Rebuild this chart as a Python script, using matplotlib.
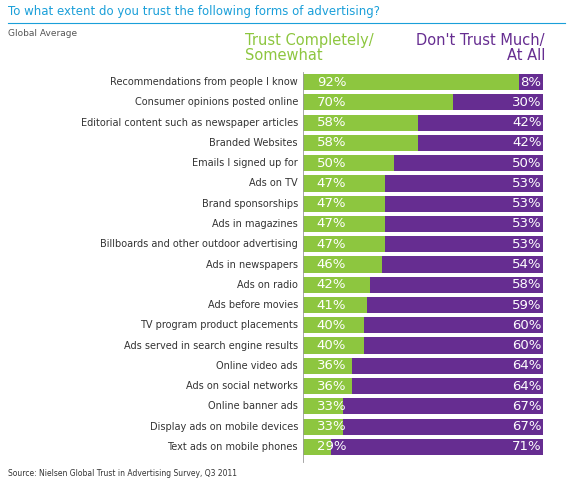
import matplotlib.pyplot as plt

categories = ["Recommendations from people I know", "Consumer opinions posted online",
              "Editorial content such as newspaper articles", "Branded Websites",
              "Emails I signed up for", "Ads on TV", "Brand sponsorships", "Ads in magazines",
              "Billboards and other outdoor advertising", "Ads in newspapers", "Ads on radio",
              "Ads before movies", "TV program product placements",
              "Ads served in search engine results", "Online video ads",
              "Ads on social networks", "Online banner ads", "Display ads on mobile devices",
              "Text ads on mobile phones"]
trust = [92, 70, 58, 58, 50, 47, 47, 47, 47, 46, 42, 41, 40, 40, 36, 36, 33, 33, 29]
distrust = [8, 30, 42, 42, 50, 53, 53, 53, 53, 54, 58, 59, 60, 60, 64, 64, 67, 67, 71]

green = "#8dc63f"
purple = "#662d91"
W, H = 570, 486
x0, x1 = 19.5, 100.8  # the original chart's scale does not start at zero

fig = plt.figure(figsize=(W / 100, H / 100), dpi=100)
fig.patch.set_facecolor("white")
ax = fig.add_axes([303 / W, 1 - 457 / H, 242 / W, 385 / H])
y = list(range(len(categories)))
ax.barh(y, trust, height=0.8, color=green)
ax.barh(y, distrust, left=trust, height=0.8, color=purple)
ax.set_xlim(x0, x1)
ax.set_ylim(len(categories) - 0.5, -0.5)
ax.axis("off")

for i, cat in enumerate(categories):
    ax.text(x0 - 1.7, i, cat, ha="right", va="center", fontsize=7, color="#333333", clip_on=False)
    ax.text(x0 + 4.6, i, f"{trust[i]}%", ha="left", va="center", fontsize=9.5, color="white")
    ax.text(99.6, i, f"{distrust[i]}%", ha="right", va="center", fontsize=9.5, color="white")

# thin vertical axis line under the bars
fig.add_artist(plt.Line2D([303 / W, 303 / W], [1 - 72 / H, 1 - 462 / H], color="#999999", lw=0.6))

fig.text(8 / W, 1 - 12 / H, "To what extent do you trust the following forms of advertising?",
         fontsize=8.5, color="#1a9fd9", va="center")
fig.add_artist(plt.Line2D([8 / W, 565 / W], [1 - 23 / H, 1 - 23 / H], color="#1a9fd9", lw=0.8))
fig.text(8 / W, 1 - 34 / H, "Global Average", fontsize=6.5, color="#555555", va="center")
fig.text(245 / W, 1 - 48 / H, "Trust Completely/\nSomewhat", fontsize=10.5, color=green,
         va="center", ha="left", linespacing=1.05)
fig.text(545 / W, 1 - 48 / H, "Don't Trust Much/\nAt All", fontsize=10.5, color=purple,
         va="center", ha="right", linespacing=1.05, multialignment="right")
fig.text(8 / W, 1 - 473 / H, "Source: Nielsen Global Trust in Advertising Survey, Q3 2011",
         fontsize=5.5, color="#333333", va="center")

fig.savefig("out.png", dpi=100)
